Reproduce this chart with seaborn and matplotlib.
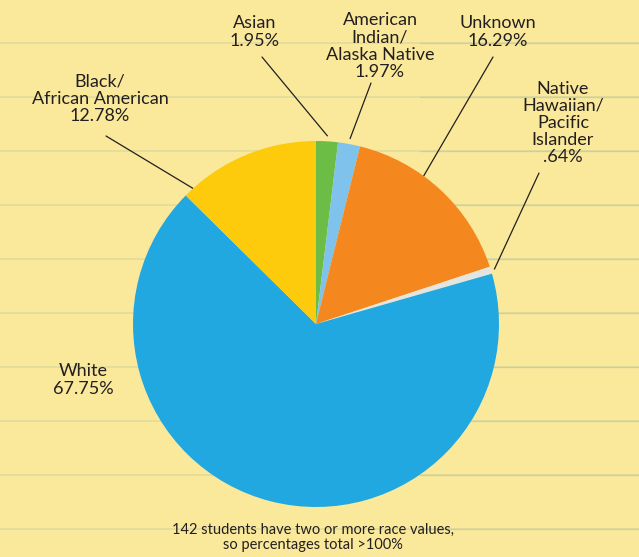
import numpy as np
import seaborn as sns
import matplotlib.pyplot as plt
from matplotlib.lines import Line2D

# dados
grupos = ["Asian", "American\nIndian/\nAlaska Native", "Unknown",
          "Native\nHawaiian/\nPacific\nIslander", "White", "Black/\nAfrican American"]
percentuais = [1.95, 1.97, 16.29, 0.64, 67.75, 12.78]
rotulos_pct = ["1.95%", "1.97%", "16.29%", ".64%", "67.75%", "12.78%"]
cores = ["#6cbd45", "#7fc3ec", "#f5871f", "#e4e4e0", "#22a8e0", "#fdcb0b"]

sns.set_style("white")
plt.rcParams["font.family"] = ["Lato", "DejaVu Sans"]

W, H = 639, 557
fundo = "#fbe99b"
fig = plt.figure(figsize=(W / 100, H / 100), dpi=100, facecolor=fundo)

# eixo de fundo em pixels (origem no topo)
bg = fig.add_axes([0, 0, 1, 1], facecolor=fundo)
bg.set_xlim(0, W)
bg.set_ylim(H, 0)
bg.axis("off")
for y in range(43, H, 54):
    bg.add_line(Line2D([0, W], [y, y], color="#e2dc9c", lw=1.3, zorder=0))
    bg.add_line(Line2D([420, W], [y, y], color="#b9c8a8", lw=1.0, alpha=0.6, zorder=0))

# pizza
cx, cy, r = 316, 324, 183
ax = fig.add_axes([(cx - r) / W, (H - cy - r) / H, 2 * r / W, 2 * r / H])
ax.set_facecolor("none")
fatias, _ = ax.pie(percentuais, colors=cores, startangle=90, counterclock=False,
                   radius=1, wedgeprops=dict(linewidth=0))
ax.set_xlim(-1, 1)
ax.set_ylim(-1, 1)
ax.axis("off")

# posição do texto (pixels) e ponto da linha na fatia (fração do ângulo, raio)
pos_texto = [(255, 32), (380, 46), (498, 32), (563, 123), (83, 380), (100, 99)]
inicio_linha = [(262, 57), (371, 83), (493, 57), (539, 173), None, (106, 136)]
ancora = [(0.5, 1.03), (0.5, 1.03), (0.6, 0.85), (0.5, 1.02), None, (0.93, 1.0)]

for i, fatia in enumerate(fatias):
    tx, ty = pos_texto[i]
    bg.text(tx, ty, grupos[i] + "\n" + rotulos_pct[i], ha="center", va="center",
            fontsize=13, color="#231f20", linespacing=1.08)
    if inicio_linha[i] is None:
        continue
    frac, rr = ancora[i]
    ang = np.deg2rad(fatia.theta1 + frac * (fatia.theta2 - fatia.theta1))
    px = cx + r * rr * np.cos(ang)
    py = cy - r * rr * np.sin(ang)
    x0, y0 = inicio_linha[i]
    bg.plot([x0, px], [y0, py], color="#231f20", lw=0.9, zorder=5)

bg.text(313, 537, "142 students have two or more race values,\nso percentages total >100%",
        ha="center", va="center", fontsize=10.5, color="#231f20", linespacing=1.1)

fig.savefig("out.png", dpi=100, facecolor=fundo)
